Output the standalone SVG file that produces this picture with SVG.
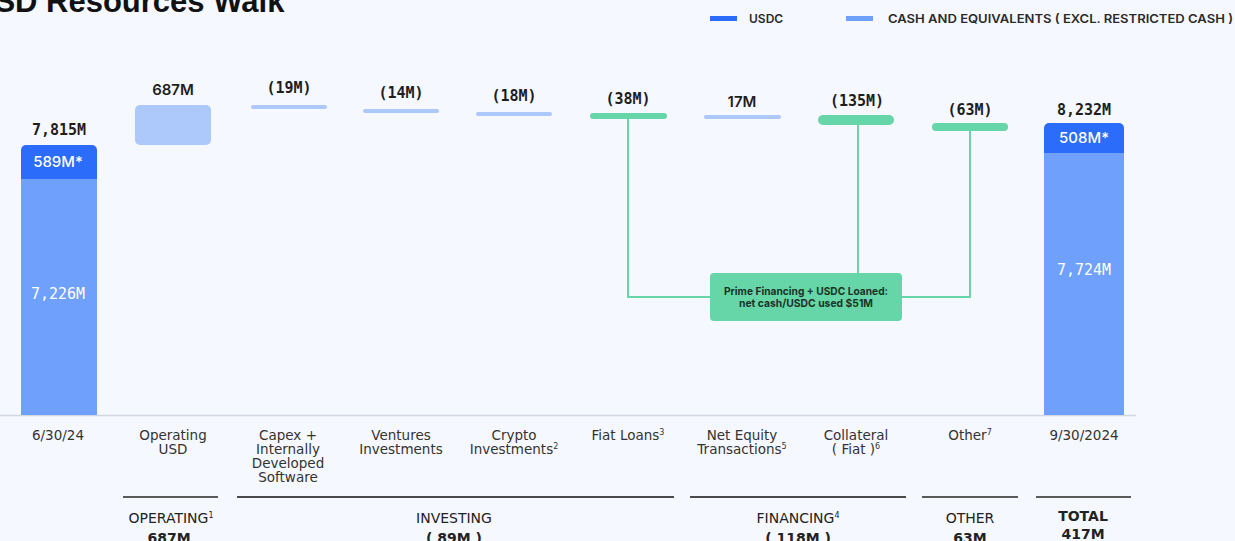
<svg xmlns="http://www.w3.org/2000/svg" width="1235" height="541" viewBox="0 0 1235 541">
<style>
.title{font-family:"Liberation Sans",Arial,sans-serif;font-weight:bold;font-size:31px;fill:#111}
.leg{font-family:Inter,"Liberation Sans",sans-serif;font-weight:600;font-size:12px;fill:#2a2a2a}
.mono{font-family:"DejaVu Sans Mono",monospace;font-weight:bold;font-size:15px;fill:#1e1e1e;text-anchor:middle}
.monow{font-family:"DejaVu Sans Mono",monospace;font-size:15px;fill:#fff;text-anchor:middle}
.val{font-family:Inter,"Liberation Sans",sans-serif;font-weight:600;font-size:15px;fill:#1e1e1e;text-anchor:middle}
.valw{font-family:Inter,"Liberation Sans",sans-serif;font-weight:500;font-size:15px;fill:#fff;text-anchor:middle}
.cat{font-family:"DejaVu Sans",sans-serif;font-size:13.5px;fill:#333;text-anchor:middle}
.sup{font-size:8px}
.grp{font-family:"DejaVu Sans",sans-serif;font-size:14px;fill:#222;text-anchor:middle}
.grpb{font-family:"DejaVu Sans",sans-serif;font-weight:bold;font-size:14px;fill:#222;text-anchor:middle}
.box{font-family:Inter,"Liberation Sans",sans-serif;font-weight:700;font-size:11px;fill:#1c3328;text-anchor:middle}
.usdc{fill:#2b6cfa}
.cash{fill:#6fa0fb}
.pale{fill:#adc8fb}
.green{fill:#66d6a8}
.conn{stroke:#66d6a8;stroke-width:2;fill:none}
.gline{stroke:#5a5a5a;stroke-width:2}
.bline{stroke:#111;stroke-width:1.5}
</style>
<rect width="1235" height="541" fill="#f5f8ff"/>
<text class="title" x="-28" y="12">USD Resources Walk</text>
<g id="legend">
<rect class="usdc" x="710" y="16" width="27" height="5"/>
<text class="leg" x="749" y="23">USDC</text>
<rect class="cash" x="846" y="16" width="27" height="5"/>
<text class="leg" x="888" y="23" textLength="345" lengthAdjust="spacingAndGlyphs">CASH AND EQUIVALENTS ( EXCL. RESTRICTED CASH )</text>
</g>
<line x1="0" y1="415.5" x2="1136" y2="415.5" stroke="#d3d7e3" stroke-width="1.5"/>
<g id="connectors">
<polyline class="conn" points="628,119 628,297 710,297"/>
<polyline class="conn" points="858,124 858,273"/>
<polyline class="conn" points="970,130 970,297 902,297"/>
</g>
<g id="bar-start">
<path class="usdc" d="M21,179 V150 a5,5 0 0 1 5,-5 H92 a5,5 0 0 1 5,5 V179 Z"/>
<rect class="cash" x="21" y="179" width="76" height="236"/>
<text class="mono" x="59" y="135">7,815M</text>
<text class="valw" x="58" y="167">589M*</text>
<text class="monow" x="58" y="299">7,226M</text>
<text class="cat" x="58" y="440">6/30/24</text>
</g>
<g id="operating">
<rect class="pale" x="135" y="105" width="76" height="40" rx="5"/>
<text class="val" x="173" y="95">687M</text>
<text class="cat" x="173" y="440">Operating</text>
<text class="cat" x="173" y="454">USD</text>
</g>
<g id="capex">
<rect class="pale" x="251" y="105" width="76" height="4" rx="2"/>
<text class="mono" x="289" y="93">(19M)</text>
<text class="cat" x="288" y="440">Capex +</text>
<text class="cat" x="288" y="454">Internally</text>
<text class="cat" x="288" y="468">Developed</text>
<text class="cat" x="288" y="482">Software</text>
</g>
<g id="ventures">
<rect class="pale" x="363" y="109" width="76" height="4" rx="2"/>
<text class="mono" x="401" y="98">(14M)</text>
<text class="cat" x="401" y="440">Ventures</text>
<text class="cat" x="401" y="454">Investments</text>
</g>
<g id="crypto">
<rect class="pale" x="476" y="112" width="76" height="4" rx="2"/>
<text class="mono" x="514" y="101">(18M)</text>
<text class="cat" x="514" y="440">Crypto</text>
<text class="cat" x="514" y="454">Investments<tspan class="sup" dy="-5">2</tspan></text>
</g>
<g id="fiat-loans">
<rect class="green" x="590" y="113" width="77" height="6" rx="3"/>
<text class="mono" x="628" y="104">(38M)</text>
<text class="cat" x="628" y="440">Fiat Loans<tspan class="sup" dy="-5">3</tspan></text>
</g>
<g id="net-equity">
<rect class="pale" x="704" y="115" width="77" height="4" rx="2"/>
<text class="val" x="742" y="107">17M</text>
<text class="cat" x="742" y="440">Net Equity</text>
<text class="cat" x="742" y="454">Transactions<tspan class="sup" dy="-5">5</tspan></text>
</g>
<g id="collateral">
<rect class="green" x="818" y="115" width="76" height="10" rx="5"/>
<text class="mono" x="857" y="106">(135M)</text>
<text class="cat" x="856" y="440">Collateral</text>
<text class="cat" x="856" y="454">( Fiat )<tspan class="sup" dy="-5">6</tspan></text>
</g>
<g id="other">
<rect class="green" x="932" y="123" width="76" height="8" rx="4"/>
<text class="mono" x="970" y="115">(63M)</text>
<text class="cat" x="970" y="440">Other<tspan class="sup" dy="-5">7</tspan></text>
</g>
<g id="bar-end">
<path class="usdc" d="M1044,153 V128 a5,5 0 0 1 5,-5 H1119 a5,5 0 0 1 5,5 V153 Z"/>
<rect class="cash" x="1044" y="153" width="80" height="262"/>
<text class="mono" x="1084" y="115">8,232M</text>
<text class="valw" x="1084" y="143">508M*</text>
<text class="monow" x="1084" y="275">7,724M</text>
<text class="cat" x="1084" y="440">9/30/2024</text>
</g>
<g id="note">
<rect class="green" x="710" y="273" width="192" height="48" rx="4"/>
<text class="box" x="806" y="295" textLength="164" lengthAdjust="spacingAndGlyphs">Prime Financing + USDC Loaned:</text>
<text class="box" x="806" y="307" textLength="134" lengthAdjust="spacingAndGlyphs">net cash/USDC used $51M</text>
</g>
<g id="groups">
<line class="gline" x1="123" y1="497" x2="218" y2="497"/>
<line class="bline" x1="237" y1="497" x2="674" y2="497"/>
<line class="bline" x1="690" y1="497" x2="906" y2="497"/>
<line class="gline" x1="922" y1="497" x2="1018" y2="497"/>
<line class="gline" x1="1036" y1="497" x2="1131" y2="497"/>
<text class="grp" x="171" y="523">OPERATING<tspan class="sup" dy="-5">1</tspan></text>
<text class="grpb" x="169" y="543">687M</text>
<text class="grp" x="454" y="523">INVESTING</text>
<text class="grpb" x="454" y="543">( 89M )</text>
<text class="grp" x="798" y="523">FINANCING<tspan class="sup" dy="-5">4</tspan></text>
<text class="grpb" x="798" y="543">( 118M )</text>
<text class="grp" x="970" y="523">OTHER</text>
<text class="grpb" x="970" y="543">63M</text>
<text class="grpb" x="1083" y="521">TOTAL</text>
<text class="grpb" x="1083" y="539">417M</text>
</g>
</svg>
